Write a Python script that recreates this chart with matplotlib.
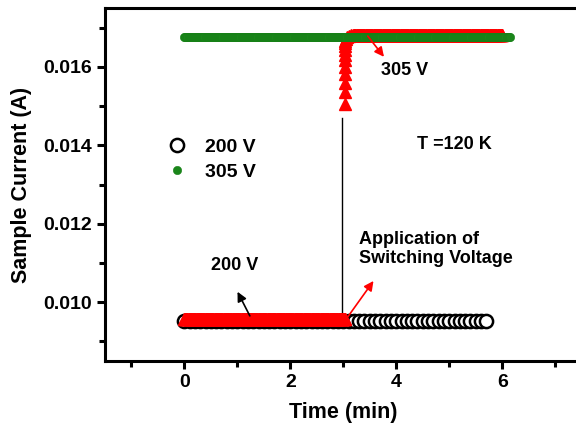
import numpy as np
import matplotlib
matplotlib.use("Agg")
import matplotlib.pyplot as plt
from matplotlib.ticker import MultipleLocator

plt.rcParams['font.family'] = ['Liberation Sans', 'DejaVu Sans']
plt.rcParams['font.weight'] = 'bold'

# 200 V run (open circles), one point every 0.1 min
t_200 = np.arange(0, 5.71, 0.1)
i_200 = np.full(len(t_200), 0.00952)

# 305 V run (green dots)
t_305 = np.arange(0, 6.16, 0.02)
i_305 = np.full(len(t_305), 0.01677)

# switching run (red triangles): 200 V part, jump, 305 V part
t_sw_low = np.arange(0, 3.05, 0.01)
i_sw_low = np.full(len(t_sw_low), 0.00958)
t_sw_jump = [3.03, 3.03, 3.03, 3.03, 3.03, 3.03, 3.03, 3.03, 3.03, 3.035,
             3.04, 3.05, 3.07, 3.10, 3.14, 3.19]
i_sw_jump = [0.01505, 0.01535, 0.01560, 0.01582, 0.01600, 0.01617, 0.01630,
             0.01642, 0.01652, 0.01660, 0.01666, 0.01671, 0.01675, 0.01678,
             0.01680, 0.01681]
t_sw_high = np.arange(3.2, 6.01, 0.01)
i_sw_high = np.full(len(t_sw_high), 0.01681)

t_switch = 2.98

fig = plt.figure(figsize=(5.76, 4.34), dpi=100)
ax = fig.add_axes([0.182, 0.168, 0.828, 0.8135])

ax.plot(t_200, i_200, 'o', ms=9.5, mfc='white', mec='black', mew=1.8,
        ls='none', label='200 V', zorder=2)
ax.plot(np.concatenate([t_sw_low, t_sw_jump, t_sw_high]),
        np.concatenate([i_sw_low, i_sw_jump, i_sw_high]),
        '^', ms=9, color='red', mec='red', ls='none', zorder=3)
ax.plot(t_305, i_305, 'o', ms=6, color='#1a861a', mec='#178017', mew=0.4,
        ls='none', label='305 V', zorder=4)

ax.plot([t_switch, t_switch], [0.00958, 0.0147], color='black', lw=1.0, zorder=1)

ax.annotate('', xy=(3.8, 0.0162), xytext=(3.43, 0.01684),
            arrowprops=dict(arrowstyle='-|>', color='red', lw=1.2,
                            mutation_scale=14), zorder=5)
ax.text(4.15, 0.0159, '305 V', fontsize=13, fontweight='bold',
        ha='center', va='center')
ax.text(5.1, 0.01401, 'T =120 K', fontsize=13, fontweight='bold',
        ha='center', va='center')
ax.text(3.3, 0.01135, 'Application of\nSwitching Voltage', fontsize=13,
        fontweight='bold', ha='left', va='center', linespacing=1.15)
ax.annotate('', xy=(3.6, 0.0106), xytext=(3.06, 0.00958),
            arrowprops=dict(arrowstyle='-|>', color='red', lw=1.2,
                            mutation_scale=14), zorder=5)
ax.text(0.94, 0.01094, '200 V', fontsize=13, fontweight='bold',
        ha='center', va='center')
ax.annotate('', xy=(0.98, 0.01033), xytext=(1.26, 0.00959),
            arrowprops=dict(arrowstyle='-|>', color='black', lw=1.2,
                            mutation_scale=14), zorder=5)

ax.legend(loc='center left', bbox_to_anchor=(0.127, 0.571), frameon=False,
          fontsize=14, handletextpad=0.85, labelspacing=0.4, borderpad=0,
          borderaxespad=0, handlelength=1.2, markerscale=1.0)

ax.set_xlim(-1.5, 7.5)
ax.set_ylim(0.0085, 0.0175)
ax.set_xticks([0, 2, 4, 6])
ax.xaxis.set_minor_locator(MultipleLocator(1))
ax.yaxis.set_major_locator(MultipleLocator(0.002))
ax.yaxis.set_minor_locator(MultipleLocator(0.001))
ax.yaxis.set_major_formatter(plt.FuncFormatter(lambda v, p: '%.3f' % v))

for s in ['left', 'bottom', 'top']:
    ax.spines[s].set_linewidth(2.2)
ax.spines['right'].set_visible(False)
ax.tick_params(which='major', direction='out', length=6, width=2.2,
               labelsize=14, top=False, right=False)
ax.tick_params(which='minor', direction='out', length=4, width=2.2,
               top=False, right=False)
for lab in ax.get_xticklabels() + ax.get_yticklabels():
    lab.set_fontweight('bold')

ax.set_xlabel('Time (min)', fontsize=15.5, fontweight='bold', labelpad=8)
ax.set_ylabel('Sample Current (A)', fontsize=15.5, fontweight='bold', labelpad=8)

fig.savefig('out.png', dpi=100)
